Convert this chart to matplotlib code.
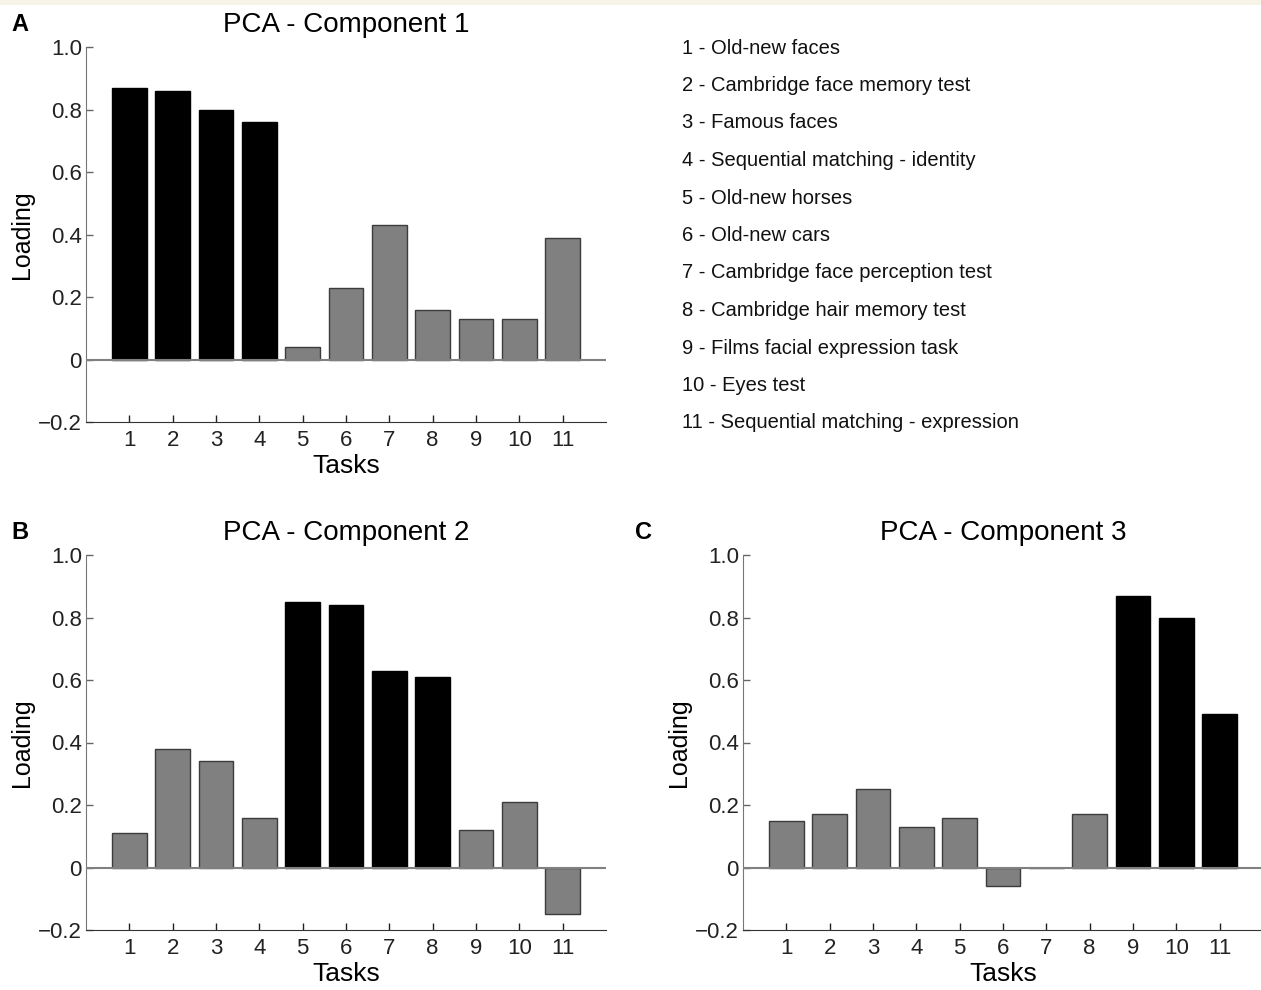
import matplotlib
matplotlib.use('Agg')
import matplotlib.pyplot as plt
from matplotlib.patches import Rectangle

plt.rcParams['font.family'] = ['Liberation Sans', 'DejaVu Sans']

# --- Daten ---
tasks = list(range(1, 12))
task_names = [
    'Old-new faces',
    'Cambridge face memory test',
    'Famous faces',
    'Sequential matching - identity',
    'Old-new horses',
    'Old-new cars',
    'Cambridge face perception test',
    'Cambridge hair memory test',
    'Films facial expression task',
    'Eyes test',
    'Sequential matching - expression',
]
comp1 = [0.87, 0.86, 0.80, 0.76, 0.04, 0.23, 0.43, 0.16, 0.13, 0.13, 0.39]
comp2 = [0.11, 0.38, 0.34, 0.16, 0.85, 0.84, 0.63, 0.61, 0.12, 0.21, -0.15]
comp3 = [0.15, 0.17, 0.25, 0.13, 0.16, -0.06, 0.00, 0.17, 0.87, 0.80, 0.49]
high1 = [1, 2, 3, 4]
high2 = [5, 6, 7, 8]
high3 = [9, 10, 11]

yticks = [-0.2, 0, 0.2, 0.4, 0.6, 0.8, 1.0]
ytick_labels = ['\u22120.2', '0', '0.2', '0.4', '0.6', '0.8', '1.0']

fig = plt.figure(figsize=(12.61, 9.9), dpi=100)
fig.patches.append(Rectangle((0, 1 - 5 / 990), 1, 5 / 990, transform=fig.transFigure,
                             facecolor='#f7f3e6', edgecolor='none'))


def draw_panel(rect, values, highlight, title, letter, letter_x):
    ax = fig.add_axes(rect)
    colors = ['black' if t in highlight else '#808080' for t in tasks]
    edges = ['black' if t in highlight else '#3c3c3c' for t in tasks]
    ax.bar(tasks, values, width=0.8, color=colors, edgecolor=edges, linewidth=1.0, zorder=2)
    ax.axhline(0, color='#808080', linewidth=1.5, zorder=3)
    ax.set_xlim(0, 12)
    ax.set_ylim(-0.2, 1.0)
    ax.set_xticks(tasks)
    ax.set_yticks(yticks)
    ax.set_yticklabels(ytick_labels)
    ax.tick_params(direction='in', length=5, width=1, labelsize=16, colors='#222222', pad=6)
    ax.tick_params(axis='y', colors='#666666', labelcolor='#222222', pad=3)
    ax.spines['top'].set_visible(False)
    ax.spines['right'].set_visible(False)
    ax.spines['left'].set_color('#777777')
    ax.spines['bottom'].set_color('#333333')
    ax.set_xlabel('Tasks', fontsize=19, labelpad=2)
    ax.set_ylabel('Loading', fontsize=18, labelpad=3)
    ax.set_title(title, fontsize=20, pad=11)
    ax.text(letter_x, rect[1] + rect[3] + 0.0232, letter, transform=fig.transFigure,
            fontsize=17, fontweight='bold', ha='left', va='center')
    return ax


w = 520 / 1261
h = 375 / 990
draw_panel([86 / 1261, 1 - 422 / 990, w, h], comp1, high1, 'PCA - Component 1', 'A', 11 / 1261)
draw_panel([86 / 1261, 1 - 930 / 990, w, h], comp2, high2, 'PCA - Component 2', 'B', 11 / 1261)
draw_panel([743 / 1261, 1 - 930 / 990, w, h], comp3, high3, 'PCA - Component 3', 'C', 635 / 1261)

# --- Legende der Aufgaben ---
for i, (t, name) in enumerate(zip(tasks, task_names)):
    fig.text(682 / 1261, 1 - (48 + i * 37.5) / 990, f'{t} - {name}',
             fontsize=14.5, ha='left', va='center', color='#111111')

fig.savefig('out.png', dpi=100)
